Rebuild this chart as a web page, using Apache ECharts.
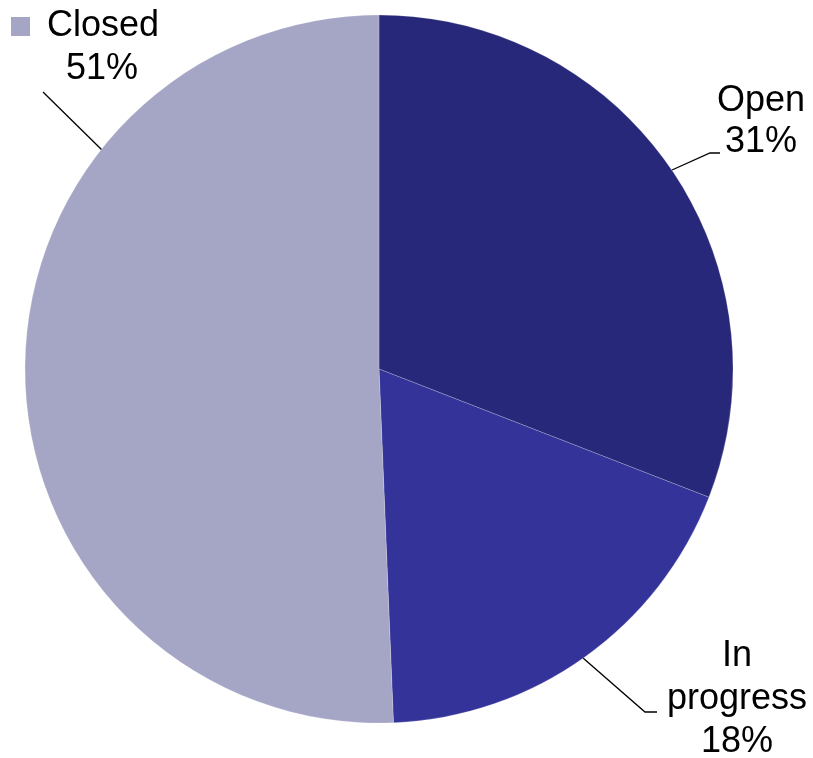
<!DOCTYPE html>
<html>
<head>
<meta charset="utf-8">
<script src="https://cdn.jsdelivr.net/npm/echarts@6/dist/echarts.min.js"></script>
<style>
html,body{margin:0;padding:0;background:#fff;}
#chart{width:813px;height:758px;}
</style>
</head>
<body>
<div id="chart"></div>
<script>
// Data
const categories = ['Open', 'In progress', 'Closed'];
const values = [30.9, 18.45, 50.65];
const labelNames = ['Open', 'In\nprogress', 'Closed'];

// Styling / layout (not data)
const colors = ['#28287A', '#333399', '#A5A5C6'];
const labelLayouts = [
  { x: 761, y: 122, align: 'center', verticalAlign: 'middle', pts: [[672, 170], [710, 153], [720, 153]] },
  { x: 737, y: 699, align: 'center', verticalAlign: 'middle', pts: [[583, 658], [645, 712], [657, 712]] },
  { x: 11, y: 5, align: 'left', verticalAlign: 'top', pts: [[103, 151], [43, 92]] }
];

const FONT = '"Liberation Sans", Arial, sans-serif';
const FS = 36;

const chart = echarts.init(document.getElementById('chart'), null, { renderer: 'canvas' });
const total = values.reduce((a, b) => a + b, 0);

const data = categories.map((c, i) => {
  const pct = Math.round(values[i] / total * 100) + '%';
  const item = {
    name: c,
    value: values[i],
    itemStyle: { color: colors[i] }
  };
  if (i === 2) {
    item.label = {
      formatter: '{m|}{t|' + labelNames[i] + '}\n{p|' + pct + '}',
      rich: {
        m: { width: 19, height: 19, backgroundColor: colors[i], lineHeight: 43 },
        t: { fontSize: FS, fontFamily: FONT, color: '#000', padding: [0, 0, 0, 17], lineHeight: 43 },
        p: { fontSize: FS, fontFamily: FONT, color: '#000', padding: [0, 0, 0, 55], lineHeight: 43 }
      }
    };
  } else {
    item.label = {
      formatter: labelNames[i] + '\n' + pct,
      lineHeight: i === 0 ? 41 : 43
    };
  }
  return item;
});

chart.setOption({
  animation: false,
  backgroundColor: '#fff',
  series: [{
    type: 'pie',
    center: [379, 369],
    radius: 354,
    startAngle: 90,
    clockwise: true,
    avoidLabelOverlap: false,
    itemStyle: { borderColor: 'rgba(255,255,255,0.4)', borderWidth: 0.5 },
    label: {
      show: true,
      position: 'outside',
      fontSize: FS,
      fontFamily: FONT,
      color: '#000',
      align: 'center'
    },
    labelLine: {
      show: true,
      lineStyle: { color: '#000', width: 1.3 }
    },
    labelLayout: function (params) {
      const L = labelLayouts[params.dataIndex];
      return {
        x: L.x, y: L.y, align: L.align, verticalAlign: L.verticalAlign,
        labelLinePoints: L.pts
      };
    },
    emphasis: { disabled: true },
    data: data
  }]
});
</script>
</body>
</html>
